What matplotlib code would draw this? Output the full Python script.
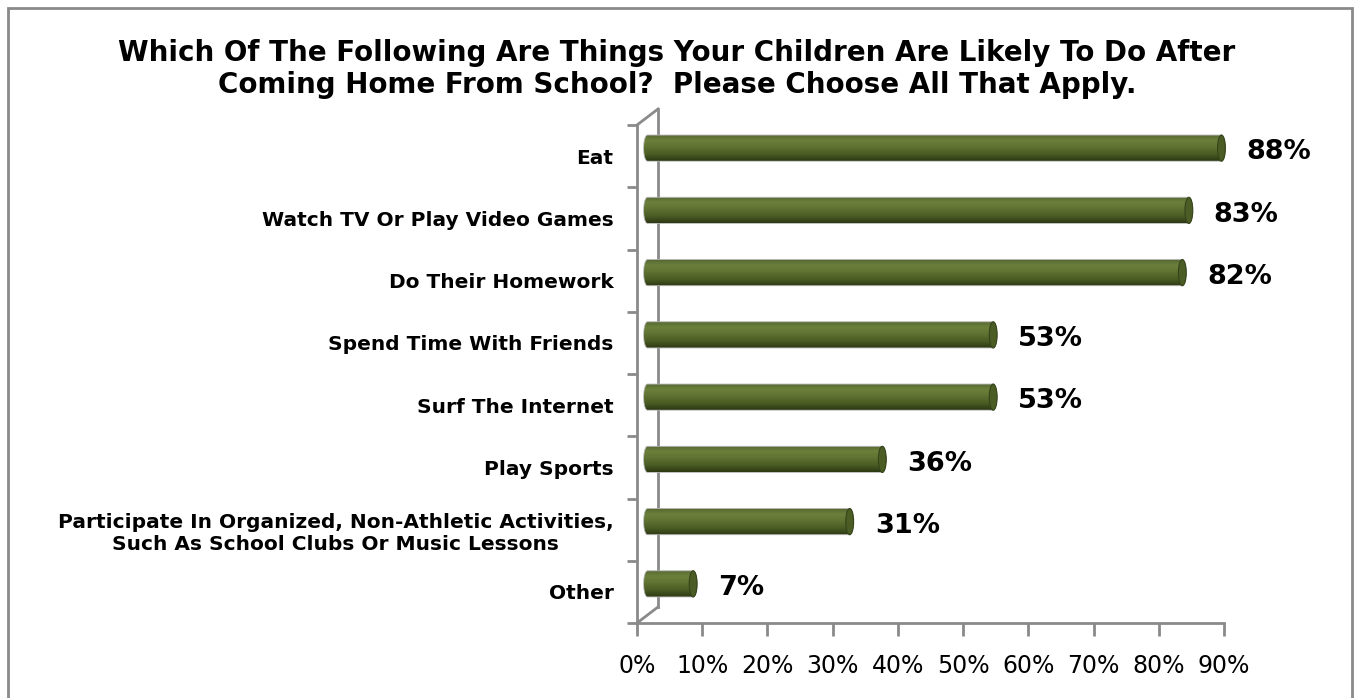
import numpy as np
import matplotlib
matplotlib.use("Agg")
import matplotlib.pyplot as plt
from matplotlib.patches import Ellipse, Polygon, Rectangle
from matplotlib.colors import LinearSegmentedColormap

# survey data
activities = ["Eat", "Watch TV Or Play Video Games", "Do Their Homework",
              "Spend Time With Friends", "Surf The Internet", "Play Sports",
              "Participate In Organized, Non-Athletic Activities,\nSuch As School Clubs Or Music Lessons",
              "Other"]
shares = [88, 83, 82, 53, 53, 36, 31, 7]
ticks = [0, 10, 20, 30, 40, 50, 60, 70, 80, 90]
tick_labels = ["%d%%" % t for t in ticks]

title = ("Which Of The Following Are Things Your Children Are Likely To Do After\n"
         "Coming Home From School?  Please Choose All That Apply.")

W, H = 1354, 698
fig = plt.figure(figsize=(W / 100, H / 100), dpi=100)
grey = "#8a8a8a"

# outer frame of the chart
fig.patches.append(Rectangle((8 / W, -0.01), (1352 - 8) / W, (698 - 8) / H + 0.01,
                             transform=fig.transFigure, fill=False,
                             edgecolor=grey, lw=2))

def make_ax(dx, dy):
    # front plane at px 637..1224 (x) and 125..623 (y); dx/dy shift in depth
    left = (637 + dx) / W
    bottom = (H - 623 + dy) / H
    a = fig.add_axes([left, bottom, 587 / W, 498 / H])
    a.set_xlim(0, 90)
    a.set_ylim(len(activities) - 0.5, -0.5)
    a.patch.set_alpha(0)
    return a

ax = make_ax(0, 0)         # front
axm = make_ax(10.5, 8)     # middle depth, bars live here
axm.axis("off")

for s in ["top", "right"]:
    ax.spines[s].set_visible(False)
for s in ["left", "bottom"]:
    ax.spines[s].set_color(grey)
    ax.spines[s].set_linewidth(2)

ax.set_xticks(ticks)
ax.set_xticklabels(tick_labels, fontsize=17)
ax.set_yticks(np.arange(len(activities) + 1) - 0.5, minor=True)
ax.set_yticks(np.arange(len(activities)))
ax.set_yticklabels(activities, fontsize=14.5, fontweight="bold")
ax.tick_params(axis="y", which="major", length=0, pad=17)
ax.tick_params(axis="y", which="minor", length=7, width=2, color=grey)
ax.tick_params(axis="x", length=9, width=2, color=grey, pad=13)
for lab in ax.get_yticklabels():
    lab.set_multialignment("center")

# back wall vertical line + depth edges (figure pixels)
def px_line(xs, ys, z):
    fig.add_artist(plt.Line2D([x / W for x in xs], [1 - y / H for y in ys],
                              color=grey, lw=2, zorder=z))

px_line([658, 658], [109, 607], -1)
px_line([637, 658], [623, 607], 3)
px_line([637, 658], [125, 109], 3)

# cylinder bars
cmap = LinearSegmentedColormap.from_list("olive", [
    (0.0, "#536530"), (0.22, "#6b803b"), (0.45, "#617433"),
    (0.75, "#4b5c24"), (1.0, "#2c3813")])
grad = np.linspace(0, 1, 64).reshape(-1, 1)
bh = 0.42
cap = 0.6
for i, v in enumerate(shares):
    t = np.linspace(np.pi / 2, 3 * np.pi / 2, 30)
    left = np.c_[cap * np.cos(t), i - (bh / 2) * np.sin(t)]
    t2 = np.linspace(-np.pi / 2, np.pi / 2, 30)
    right = np.c_[v + cap * np.cos(t2), i - (bh / 2) * np.sin(t2)]
    poly = Polygon(np.r_[left, right], closed=True, transform=axm.transData,
                   fill=False, edgecolor="#b5b5b5", lw=0.6, clip_on=False)
    im = axm.imshow(grad, cmap=cmap, aspect="auto",
                    extent=(-cap, v + cap, i + bh / 2, i - bh / 2),
                    interpolation="bilinear")
    axm.add_patch(poly)
    im.set_clip_path(poly)
    im.set_clip_box(fig.bbox)
    axm.add_patch(Ellipse((v, i), 2 * cap, bh, facecolor="#4b5c25",
                          edgecolor="#36441a", lw=0.8, clip_on=False))
    axm.annotate("%d%%" % v, (v, i), xytext=(18, -3), textcoords="offset points",
                 ha="left", va="center", fontsize=19.5, fontweight="bold")
axm.set_xlim(0, 90)
axm.set_ylim(len(activities) - 0.5, -0.5)

fig.text(677 / W, 1 - 69 / H, title, ha="center", va="center",
         fontsize=20, fontweight="bold", linespacing=1.2)

fig.savefig("out.png", dpi=100)
